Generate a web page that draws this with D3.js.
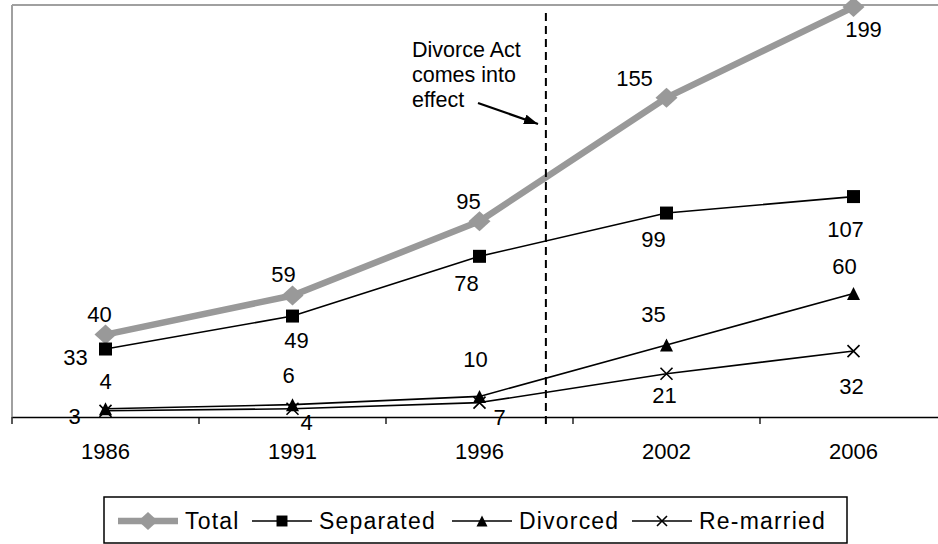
<!DOCTYPE html>
<html><head><meta charset="utf-8">
<script src="https://cdn.jsdelivr.net/npm/d3@7"></script>
<style>
html,body{margin:0;padding:0;background:#fff;}
svg{display:block;font-family:"Liberation Sans",Arial,sans-serif;}
</style></head>
<body><svg id="c" width="938" height="544"></svg>
<script>
// ---- data ----
const years = ["1986","1991","1996","2002","2006"];
const seriesNames = ["Total","Separated","Divorced","Re-married"];
const total = [40,59,95,155,199];
const separated = [33,49,78,99,107];
const divorced = [4,6,10,35,60];
const remarried = [3,4,7,21,32];
const yDomain = [0,200];
const annotationText = ["Divorce Act","comes into","effect"];
// event position expressed between categories: index 2 (1996) + fraction
const eventIndex = 2.355;

// ---- label placement (style) ----
const labelOffsets = {
  "Total":     [[-6,-13],[-9,-13],[-11,-12],[-32,-12],[10,30]],
  "Separated": [[-30,16],[4,32],[-13,35],[-13,34],[-8,40]],
  "Divorced":  [[0,-20],[-4,-22],[-4,-29],[-13,-23],[-9,-19]],
  "Re-married":[[-31,13],[14,21],[20,22],[-2,29],[-2,43]]
};

(function(){
const svg = d3.select("#c");
const W = 938;
const pLeft = 12, pTop = 5, pBottom = 417, step = 187;

const x = d3.scaleBand().domain(years).range([pLeft, pLeft + step*years.length]).paddingInner(0).paddingOuter(0);
const y = d3.scaleLinear().domain(yDomain).range([pBottom, pTop]);
const cx = d => x(d) + x.bandwidth()/2;

// plot area border (gray)
svg.append("line").attr("x1",pLeft).attr("x2",W+5).attr("y1",pTop).attr("y2",pTop)
  .attr("stroke","#a0a0a0").attr("stroke-width",2);
svg.append("line").attr("x1",pLeft).attr("x2",pLeft).attr("y1",pTop).attr("y2",pBottom)
  .attr("stroke","#a0a0a0").attr("stroke-width",2);

// x axis
const xAxis = d3.axisBottom(x).tickSize(0).tickPadding(26);
const gx = svg.append("g").attr("transform",`translate(0,${pBottom})`).call(xAxis);
gx.select(".domain").attr("stroke","#000").attr("stroke-width",1.3);
gx.selectAll("text").attr("font-size",22).attr("fill","#000").attr("font-family","Liberation Sans, Arial, sans-serif");
const edges = years.map(d => x(d)).concat([x(years[years.length-1]) + x.bandwidth()]);
svg.append("g").selectAll("line").data(edges).join("line")
  .attr("x1",d=>d).attr("x2",d=>d).attr("y1",pBottom).attr("y2",pBottom+7)
  .attr("stroke","#000").attr("stroke-width",1.3);

// symbols
const diamond = {draw(ctx,size){const r=Math.sqrt(size)/2;ctx.moveTo(0,-r);ctx.lineTo(r*1.1,0);ctx.lineTo(0,r);ctx.lineTo(-r*1.1,0);ctx.closePath();}};
const square = {draw(ctx,size){const r=Math.sqrt(size)/2;ctx.rect(-r,-r,2*r,2*r);}};
const tri = {draw(ctx,size){const r=Math.sqrt(size)/2;ctx.moveTo(0,-r);ctx.lineTo(r,r);ctx.lineTo(-r,r);ctx.closePath();}};
const cross = {draw(ctx,size){const r=Math.sqrt(size)/2;ctx.moveTo(-r,-r);ctx.lineTo(r,r);ctx.moveTo(r,-r);ctx.lineTo(-r,r);}};

const series = [
  {name:"Total", values: total, color:"#999999", width:6.5, sym:diamond, size:400, fill:"#999999", stroke:"none"},
  {name:"Separated", values: separated, color:"#000", width:1.6, sym:square, size:169, fill:"#000", stroke:"none"},
  {name:"Divorced", values: divorced, color:"#000", width:1.6, sym:tri, size:169, fill:"#000", stroke:"none"},
  {name:"Re-married", values: remarried, color:"#000", width:1.6, sym:cross, size:144, fill:"none", stroke:"#000"}
];

const line = d3.line().x((d,i)=>cx(years[i])).y(d=>y(d));
series.forEach(s=>{
  const g = svg.append("g");
  g.append("path").attr("d",line(s.values)).attr("fill","none")
    .attr("stroke",s.color).attr("stroke-width",s.width).attr("stroke-linejoin","round");
  g.selectAll("path.m").data(s.values).join("path").attr("class","m")
    .attr("transform",(d,i)=>`translate(${cx(years[i])},${y(d)})`)
    .attr("d",d3.symbol().type(s.sym).size(s.size))
    .attr("fill",s.fill).attr("stroke",s.stroke).attr("stroke-width",1.6);
});
series.forEach(s=>{
  svg.append("g").selectAll("text").data(s.values).join("text")
    .attr("x",(d,i)=>cx(years[i]) + labelOffsets[s.name][i][0])
    .attr("y",(d,i)=>y(d) + labelOffsets[s.name][i][1])
    .attr("text-anchor","middle").attr("font-size",22).attr("fill","#000")
    .text(d=>d);
});

// event line
const ex = pLeft + step*(eventIndex+0.5);
svg.append("line").attr("x1",ex).attr("x2",ex).attr("y1",13).attr("y2",428)
  .attr("stroke","#000").attr("stroke-width",2).attr("stroke-dasharray","8,5");

// annotation
const ann = svg.append("text").attr("x",412).attr("y",57).attr("font-size",21.5).attr("fill","#000");
annotationText.forEach((t,i)=>ann.append("tspan").attr("x",412).attr("dy",i===0?0:25).text(t));
svg.append("defs").append("marker").attr("id","ah").attr("viewBox","0 0 14 10").attr("refX",14).attr("refY",5)
  .attr("markerWidth",14).attr("markerHeight",10).attr("orient","auto").attr("markerUnits","userSpaceOnUse")
  .append("path").attr("d","M0,0L14,5L0,10z").attr("fill","#000");
svg.append("line").attr("x1",478).attr("y1",103).attr("x2",538).attr("y2",124)
  .attr("stroke","#000").attr("stroke-width",2.2).attr("marker-end","url(#ah)");

// legend
const lg = svg.append("g");
const lx0 = 104, ly = 521;
lg.append("rect").attr("x",lx0).attr("y",497).attr("width",847-lx0).attr("height",46)
  .attr("fill","#fff").attr("stroke","#000").attr("stroke-width",1.5);
const legendStarts = [118, 252, 452, 632];
series.forEach((s,i)=>{
  const sx = legendStarts[i];
  lg.append("line").attr("x1",sx).attr("x2",sx+60).attr("y1",ly).attr("y2",ly)
    .attr("stroke",s.color).attr("stroke-width",s.name==="Total"?6.5:1.6);
  lg.append("path").attr("transform",`translate(${sx+30},${ly})`)
    .attr("d",d3.symbol().type(s.sym).size(s.name==="Total"?320:(s.name==="Re-married"?100:120)))
    .attr("fill",s.fill).attr("stroke",s.stroke).attr("stroke-width",1.6);
  lg.append("text").attr("x",sx+67).attr("y",ly+8).attr("font-size",23).attr("letter-spacing",1.2)
    .attr("fill","#000").text(s.name);
});
})();
</script></body></html>
